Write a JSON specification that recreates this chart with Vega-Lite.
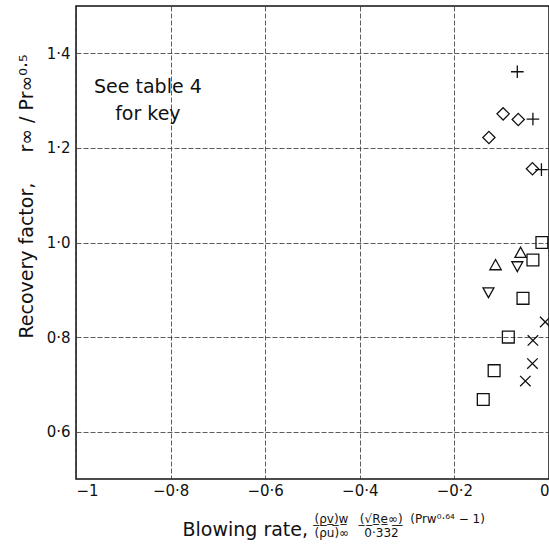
{
  "$schema": "https://vega.github.io/schema/vega-lite/v6.json",
  "width": 473,
  "height": 473,
  "autosize": {"type": "none"},
  "padding": {"left": 76, "top": 6, "right": 0, "bottom": 78},
  "background": "white",
  "config": {
    "view": {"stroke": "#111", "strokeWidth": 1.5},
    "font": "DejaVu Sans",
    "axis": {
      "labelFont": "DejaVu Sans",
      "titleFont": "DejaVu Sans",
      "labelColor": "#111",
      "titleColor": "#111",
      "titleFontWeight": "normal",
      "gridColor": "#333",
      "gridWidth": 0.8,
      "gridDash": [5, 2],
      "domain": false,
      "ticks": false,
      "tickSize": 0,
      "labelFontSize": 15
    }
  },
  "datasets": {
    "points": [
      {"series": "plus", "x": -0.067, "y": 1.361},
      {"series": "plus", "x": -0.034, "y": 1.261},
      {"series": "plus", "x": -0.016, "y": 1.154},
      {"series": "diamond", "x": -0.097, "y": 1.272},
      {"series": "diamond", "x": -0.065, "y": 1.26},
      {"series": "diamond", "x": -0.127, "y": 1.222},
      {"series": "diamond", "x": -0.035, "y": 1.156},
      {"series": "square", "x": -0.015, "y": 1.0},
      {"series": "square", "x": -0.034, "y": 0.963},
      {"series": "square", "x": -0.055, "y": 0.882},
      {"series": "square", "x": -0.086, "y": 0.8},
      {"series": "square", "x": -0.116, "y": 0.729},
      {"series": "square", "x": -0.139, "y": 0.668},
      {"series": "triangle-up", "x": -0.06, "y": 0.978},
      {"series": "triangle-up", "x": -0.113, "y": 0.952},
      {"series": "triangle-down", "x": -0.067, "y": 0.95},
      {"series": "triangle-down", "x": -0.128, "y": 0.895},
      {"series": "cross", "x": -0.008, "y": 0.832},
      {"series": "cross", "x": -0.034, "y": 0.793},
      {"series": "cross", "x": -0.035, "y": 0.744},
      {"series": "cross", "x": -0.05, "y": 0.707}
    ],
    "notes": [
      {"note": "See table 4", "nx": -0.848, "ny": 1.329},
      {"note": "for key", "nx": -0.848, "ny": 1.272}
    ]
  },
  "layer": [
    {
      "data": {"name": "points"},
      "mark": {"type": "point", "filled": false, "color": "#111", "strokeWidth": 1.3, "opacity": 1},
      "encoding": {
        "x": {
          "field": "x",
          "type": "quantitative",
          "scale": {"domain": [-1, 0], "nice": false, "zero": false},
          "axis": {
            "grid": true,
            "values": [-1, -0.8, -0.6, -0.4, -0.2, 0],
            "labelExpr": "datum.value == -1 ? '−1' : datum.value == 0 ? '0' : replace(format(datum.value, '.1f'), '.', '·')",
            "labelPadding": 4,
            "title": "Blowing rate,",
            "titleFontSize": 19,
            "titleAlign": "left",
            "titleBaseline": "middle",
            "titleX": 106,
            "titleY": 50
          }
        },
        "y": {
          "field": "y",
          "type": "quantitative",
          "scale": {"domain": [0.5, 1.5], "nice": false, "zero": false},
          "axis": {
            "grid": true,
            "values": [0.6, 0.8, 1.0, 1.2, 1.4],
            "labelExpr": "replace(format(datum.value, '.1f'), '.', '·')",
            "labelPadding": 6,
            "title": "Recovery factor,\u00a0\u00a0\u00a0\u00a0 r∞\u00a0/\u00a0Pr∞⁰·⁵",
            "titleFontSize": 19,
            "titleAngle": -90,
            "titleAlign": "center",
            "titleBaseline": "middle",
            "titleX": -50,
            "titleY": 190
          }
        },
        "shape": {
          "field": "series",
          "type": "nominal",
          "scale": {
            "domain": ["plus", "diamond", "square", "triangle-up", "triangle-down", "cross"],
            "range": ["M-1,0H1M0,-1V1", "M0,-1L1,0L0,1L-1,0Z", "M-1,-1H1V1H-1Z", "M0,-1L1,0.8H-1Z", "M-1,-0.8H1L0,1Z", "M-1,-1L1,1M1,-1L-1,1"]
          },
          "legend": null
        },
        "size": {
          "field": "series",
          "type": "nominal",
          "scale": {
            "domain": ["plus", "diamond", "square", "triangle-up", "triangle-down", "cross"],
            "range": [160, 110, 81, 121, 121, 110]
          },
          "legend": null
        }
      }
    },
    {
      "data": {"name": "notes"},
      "mark": {"type": "text", "font": "DejaVu Sans", "fontSize": 19, "align": "center", "baseline": "middle", "color": "#111"},
      "encoding": {
        "x": {
          "field": "nx",
          "type": "quantitative",
          "axis": {
            "orient": "bottom",
            "grid": false,
            "labels": false,
            "domain": false,
            "ticks": false,
            "title": ["(\u0332ρ\u0332v\u0332)\u0332w\u0332\u00a0\u00a0\u00a0(\u0332√\u0332R\u0332e\u0332∞\u0332)\u0332\u00a0\u00a0(Prw⁰·⁶⁴ − 1)", "(ρu)∞\u00a0\u00a0\u00a0\u00a00·332"],
            "titleFontSize": 12,
            "titleLineHeight": 14,
            "titleAlign": "left",
            "titleBaseline": "top",
            "titleX": 238,
            "titleY": 34
          }
        },
        "y": {"field": "ny", "type": "quantitative"},
        "text": {"field": "note"}
      }
    }
  ],
  "resolve": {"axis": {"x": "independent"}}
}
